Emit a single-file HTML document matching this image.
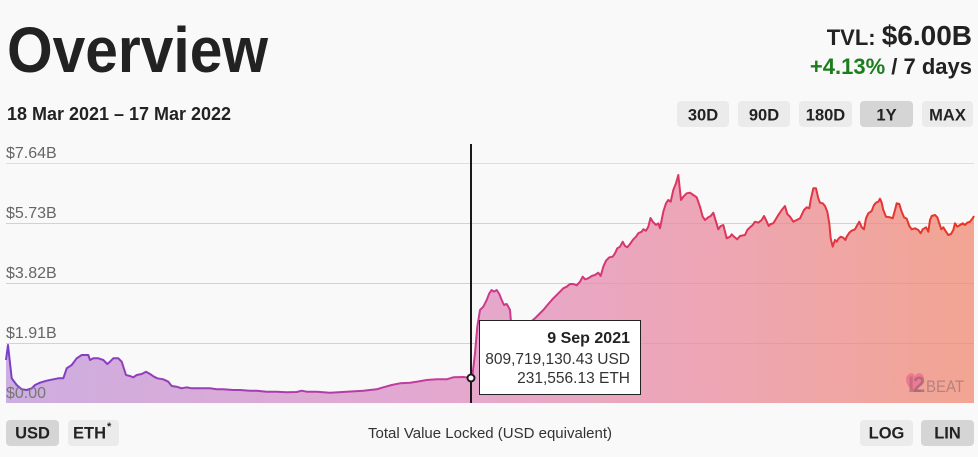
<!DOCTYPE html>
<html>
<head>
<meta charset="utf-8">
<style>
html,body{margin:0;padding:0;background:#f9f9f9;}
body{width:978px;height:457px;overflow:hidden;}
svg{display:block;font-family:"Liberation Sans",Arial,sans-serif;}
</style>
</head>
<body>
<svg width="978" height="457" viewBox="0 0 978 457" xmlns="http://www.w3.org/2000/svg">
<defs>
<linearGradient id="fillG" x1="6" y1="0" x2="974" y2="0" gradientUnits="userSpaceOnUse">
<stop offset="0" stop-color="#cdaee0"/>
<stop offset="0.45" stop-color="#e4a8cf"/>
<stop offset="0.7" stop-color="#eda6b8"/>
<stop offset="1" stop-color="#f2a592"/>
</linearGradient>
<linearGradient id="lineG" x1="6" y1="0" x2="974" y2="0" gradientUnits="userSpaceOnUse">
<stop offset="0" stop-color="#7a3fc8"/>
<stop offset="0.45" stop-color="#c63c9c"/>
<stop offset="0.72" stop-color="#dc3560"/>
<stop offset="1" stop-color="#e8361f"/>
</linearGradient>
</defs>
<rect width="978" height="457" fill="#f9f9f9"/>

<!-- Header -->
<text x="7" y="72" font-size="64" font-weight="bold" fill="#222" textLength="261" lengthAdjust="spacingAndGlyphs">Overview</text>
<text x="7" y="120" font-size="18" font-weight="bold" fill="#222" textLength="224" lengthAdjust="spacingAndGlyphs">18 Mar 2021 – 17 Mar 2022</text>

<text x="972" y="45" text-anchor="end" fill="#222" font-weight="bold"><tspan font-size="22">TVL: </tspan><tspan font-size="28">$6.00B</tspan></text>
<text x="972" y="74" text-anchor="end" font-size="22" font-weight="bold" fill="#222"><tspan fill="#1b7d1b">+4.13%</tspan> / 7 days</text>

<!-- Range buttons -->
<rect x="677" y="101" width="52" height="26" rx="4" fill="#ebebeb"/>
<text x="703" y="120.5" text-anchor="middle" font-size="16.5" font-weight="bold" fill="#222">30D</text>
<rect x="738" y="101" width="52" height="26" rx="4" fill="#ebebeb"/>
<text x="764" y="120.5" text-anchor="middle" font-size="16.5" font-weight="bold" fill="#222">90D</text>
<rect x="799" y="101" width="53" height="26" rx="4" fill="#ebebeb"/>
<text x="825.5" y="120.5" text-anchor="middle" font-size="16.5" font-weight="bold" fill="#222">180D</text>
<rect x="860" y="101" width="53" height="26" rx="4" fill="#d5d5d5"/>
<text x="886.5" y="120.5" text-anchor="middle" font-size="16.5" font-weight="bold" fill="#222">1Y</text>
<rect x="922" y="101" width="51" height="26" rx="4" fill="#ebebeb"/>
<text x="947.5" y="120.5" text-anchor="middle" font-size="16.5" font-weight="bold" fill="#222">MAX</text>

<!-- gridlines -->
<g stroke="#dedede" stroke-width="1">
<line x1="6" y1="163.5" x2="974" y2="163.5"/>
<line x1="6" y1="223.5" x2="974" y2="223.5"/>
<line x1="6" y1="283.5" x2="974" y2="283.5"/>
<line x1="6" y1="343.5" x2="974" y2="343.5"/>
</g>

<!-- area -->
<path fill="url(#fillG)" d="M6,403 L6,360 8,345 11.7,378.3 16.7,385 21.7,389.3 26.7,390 31.7,388.3 35,385 40,382.7 46.7,380.7 53.3,379.3 58.3,378.3 63.3,378.3 65,373.3 66.7,368.3 71.7,365 76.7,358.3 81.7,355 88.3,355 90,360 93.3,358.3 98.3,358.3 103.3,360 107.3,364 110,361.7 113.3,358.3 118.3,358.3 121.7,361.7 126,375 130,376 133.3,377.3 136.7,375 141.7,374 146,371.7 150,374 154,376.7 157.3,378.3 163.3,379.3 168.3,381.7 171.7,386 176.7,386.7 181.7,388.3 186.7,387.3 191.7,388.3 196.7,388.3 203.3,388.3 210,388.3 216.7,389.3 223.3,389.3 233.3,390 240,390 250,390.7 256.7,390.7 266.7,391.7 276.7,391.7 286.7,392.3 296.7,392 301.7,390.7 306.7,391.7 316.7,391.7 330,392.7 346.7,391.7 363.3,390.7 376.7,389.3 383.3,387.3 391.7,385 400,383.3 410,382.7 416.7,381.7 426.7,380 436.7,379.3 446.7,379.3 453.3,377.3 463.3,377 471,378 472.7,373.3 475,353.3 477.3,326.7 480,310 483.3,306.7 486.7,300 489.3,293.3 491.7,290 494,291.7 496.7,290 499.3,294 501.7,300 504,305 506.7,304 508.3,306.7 510,310 511,322 515,335 522,333 528,325 531.7,321 535,318.3 538.3,315 543.3,310 548.3,304 553.3,298.3 556.7,295 560,291.7 563.3,288.3 566.7,286.7 570,284 573.3,284 576.7,285.3 580,281.7 582.7,276.7 585,279.3 588.3,278.3 591.7,276 595,275 598.3,272.7 600.7,276 603.3,266.7 606,260.7 609.3,257.3 612.7,256.7 615,253.3 617.3,248.3 620,246.7 622.7,241.7 625,246 627.3,247.3 630,244 633.3,239.3 636,236.7 638.3,233.3 641.7,231.7 643.3,229.3 646,230.7 648.3,226.7 650.5,218 653,222 656,225 658.3,223.3 660,228.3 663.3,211.7 666,203.3 668.3,200 670.7,201.7 673.3,190 676,183.3 678.3,175 681,200 683.3,196.7 686.7,193.3 690,192.7 693.3,195 696.7,197.3 700,206.7 702.7,216.7 705,220 708.3,217.3 710.7,216 713.3,212.7 716,221.7 718.3,229.3 720.7,226 723.3,225 726.7,238.3 730,236.7 731.7,234.3 734,236.7 737.3,239.3 740,236 745,235 747.3,230 750,227.3 752.7,225 755,221.7 758.3,222.7 761.7,220 764,216 766,220 768.7,226 770.7,224 773.3,223.3 775.3,220 778.3,215 781.7,210 785,206 787.3,214 790,216.7 793.3,221.7 796.7,220 800,218.3 804,210 806.7,207.3 809.3,208.3 810.7,200 813.3,188.3 816,188.3 818.3,198.3 820,202.7 822.7,203.3 825,206 827.3,211.7 829.3,223.3 830.7,238.3 832.7,246.7 835,240 836.7,241.7 838.3,239 840.7,236.7 843.3,237.7 845.3,240 846.7,236.7 849.3,232.7 851.7,230.7 855,229.3 857.3,225 859.3,221.7 861.7,227.3 864,229.3 866,218.3 868.3,213.3 871.7,211 874,205 876,202.7 878.3,201.7 880,198.7 881.7,202.7 883.3,210 886,216.7 890,217.3 892.7,218.3 895,210 896.7,203.3 899.3,204 901.7,211.7 904,217.3 906.7,218.7 909.3,226 911.7,229.3 915,228.3 918.3,230 920.7,233.3 922.7,229.3 926,227.3 928.3,231.7 930,220 931.7,216 935,215 937.3,217.3 939.3,223.3 941.3,229.3 943.3,227.3 946,231.7 948.3,235 951,234 953.3,230 955,223.3 957.3,226.7 960,225 962.7,223.3 965,225 967.3,222.7 970,221.7 972.7,218.3 974,216 L974,403 Z"/>

<!-- gridlines faint over fill -->
<g stroke="rgba(0,0,0,0.05)" stroke-width="1">
<line x1="6" y1="223.5" x2="974" y2="223.5"/>
<line x1="6" y1="283.5" x2="974" y2="283.5"/>
<line x1="6" y1="343.5" x2="974" y2="343.5"/>
</g>

<!-- line -->
<path fill="none" stroke="url(#lineG)" stroke-width="2" stroke-linejoin="round" d="M6,360 L8,345 11.7,378.3 16.7,385 21.7,389.3 26.7,390 31.7,388.3 35,385 40,382.7 46.7,380.7 53.3,379.3 58.3,378.3 63.3,378.3 65,373.3 66.7,368.3 71.7,365 76.7,358.3 81.7,355 88.3,355 90,360 93.3,358.3 98.3,358.3 103.3,360 107.3,364 110,361.7 113.3,358.3 118.3,358.3 121.7,361.7 126,375 130,376 133.3,377.3 136.7,375 141.7,374 146,371.7 150,374 154,376.7 157.3,378.3 163.3,379.3 168.3,381.7 171.7,386 176.7,386.7 181.7,388.3 186.7,387.3 191.7,388.3 196.7,388.3 203.3,388.3 210,388.3 216.7,389.3 223.3,389.3 233.3,390 240,390 250,390.7 256.7,390.7 266.7,391.7 276.7,391.7 286.7,392.3 296.7,392 301.7,390.7 306.7,391.7 316.7,391.7 330,392.7 346.7,391.7 363.3,390.7 376.7,389.3 383.3,387.3 391.7,385 400,383.3 410,382.7 416.7,381.7 426.7,380 436.7,379.3 446.7,379.3 453.3,377.3 463.3,377 471,378 472.7,373.3 475,353.3 477.3,326.7 480,310 483.3,306.7 486.7,300 489.3,293.3 491.7,290 494,291.7 496.7,290 499.3,294 501.7,300 504,305 506.7,304 508.3,306.7 510,310 511,322 515,335 522,333 528,325 531.7,321 535,318.3 538.3,315 543.3,310 548.3,304 553.3,298.3 556.7,295 560,291.7 563.3,288.3 566.7,286.7 570,284 573.3,284 576.7,285.3 580,281.7 582.7,276.7 585,279.3 588.3,278.3 591.7,276 595,275 598.3,272.7 600.7,276 603.3,266.7 606,260.7 609.3,257.3 612.7,256.7 615,253.3 617.3,248.3 620,246.7 622.7,241.7 625,246 627.3,247.3 630,244 633.3,239.3 636,236.7 638.3,233.3 641.7,231.7 643.3,229.3 646,230.7 648.3,226.7 650.5,218 653,222 656,225 658.3,223.3 660,228.3 663.3,211.7 666,203.3 668.3,200 670.7,201.7 673.3,190 676,183.3 678.3,175 681,200 683.3,196.7 686.7,193.3 690,192.7 693.3,195 696.7,197.3 700,206.7 702.7,216.7 705,220 708.3,217.3 710.7,216 713.3,212.7 716,221.7 718.3,229.3 720.7,226 723.3,225 726.7,238.3 730,236.7 731.7,234.3 734,236.7 737.3,239.3 740,236 745,235 747.3,230 750,227.3 752.7,225 755,221.7 758.3,222.7 761.7,220 764,216 766,220 768.7,226 770.7,224 773.3,223.3 775.3,220 778.3,215 781.7,210 785,206 787.3,214 790,216.7 793.3,221.7 796.7,220 800,218.3 804,210 806.7,207.3 809.3,208.3 810.7,200 813.3,188.3 816,188.3 818.3,198.3 820,202.7 822.7,203.3 825,206 827.3,211.7 829.3,223.3 830.7,238.3 832.7,246.7 835,240 836.7,241.7 838.3,239 840.7,236.7 843.3,237.7 845.3,240 846.7,236.7 849.3,232.7 851.7,230.7 855,229.3 857.3,225 859.3,221.7 861.7,227.3 864,229.3 866,218.3 868.3,213.3 871.7,211 874,205 876,202.7 878.3,201.7 880,198.7 881.7,202.7 883.3,210 886,216.7 890,217.3 892.7,218.3 895,210 896.7,203.3 899.3,204 901.7,211.7 904,217.3 906.7,218.7 909.3,226 911.7,229.3 915,228.3 918.3,230 920.7,233.3 922.7,229.3 926,227.3 928.3,231.7 930,220 931.7,216 935,215 937.3,217.3 939.3,223.3 941.3,229.3 943.3,227.3 946,231.7 948.3,235 951,234 953.3,230 955,223.3 957.3,226.7 960,225 962.7,223.3 965,225 967.3,222.7 970,221.7 972.7,218.3 974,216"/>

<!-- y labels -->
<g font-size="16" fill="#666">
<text x="6" y="158">$7.64B</text>
<text x="6" y="218">$5.73B</text>
<text x="6" y="278">$3.82B</text>
<text x="6" y="338">$1.91B</text>
<text x="6" y="398" fill="#777">$0.00</text>
</g>

<!-- watermark -->
<path d="M914,392 C905,385 904,377 909,374 C912,372 914,374 915,376 C916,374 919,372 922,374 C926,377 923,385 914,392 Z" fill="#f0708e" opacity="0.85"/>
<text x="908" y="392" font-size="22" font-weight="bold" fill="#b06a78" opacity="0.7">L</text>
<text x="913" y="392" font-size="22" font-weight="bold" fill="#a86878" opacity="0.8">2</text>
<text x="926" y="392" font-size="17" fill="#a87878" opacity="0.8" textLength="38" lengthAdjust="spacingAndGlyphs">BEAT</text>

<!-- crosshair -->
<line x1="471" y1="144" x2="471" y2="403" stroke="#1a1a1a" stroke-width="2"/>
<circle cx="471" cy="378" r="3.5" fill="#fff" stroke="#1a1a1a" stroke-width="2"/>

<!-- tooltip -->
<rect x="479.5" y="320.5" width="161" height="74" fill="#fff" stroke="#222" stroke-width="1"/>
<text x="630" y="343" text-anchor="end" font-size="16" font-weight="bold" fill="#222">9 Sep 2021</text>
<text x="630" y="364" text-anchor="end" font-size="15.5" fill="#333">809,719,130.43 USD</text>
<text x="630" y="383" text-anchor="end" font-size="15.5" fill="#333">231,556.13 ETH</text>

<!-- bottom controls -->
<rect x="6" y="420" width="53" height="26" rx="4" fill="#d5d5d5"/>
<text x="32.5" y="438.5" text-anchor="middle" font-size="16.5" font-weight="bold" fill="#222">USD</text>
<rect x="68" y="420" width="51" height="26" rx="4" fill="#ebebeb"/>
<text x="73" y="438.5" font-size="16.5" font-weight="bold" fill="#222">ETH</text>
<text x="107" y="430" font-size="11" font-weight="bold" fill="#222">*</text>

<text x="490" y="438" text-anchor="middle" font-size="15" fill="#333">Total Value Locked (USD equivalent)</text>

<rect x="860" y="420" width="53" height="26" rx="4" fill="#ebebeb"/>
<text x="886.5" y="438.5" text-anchor="middle" font-size="16.5" font-weight="bold" fill="#222">LOG</text>
<rect x="921" y="420" width="53" height="26" rx="4" fill="#d5d5d5"/>
<text x="947.5" y="438.5" text-anchor="middle" font-size="16.5" font-weight="bold" fill="#222">LIN</text>
</svg>
</body>
</html>
